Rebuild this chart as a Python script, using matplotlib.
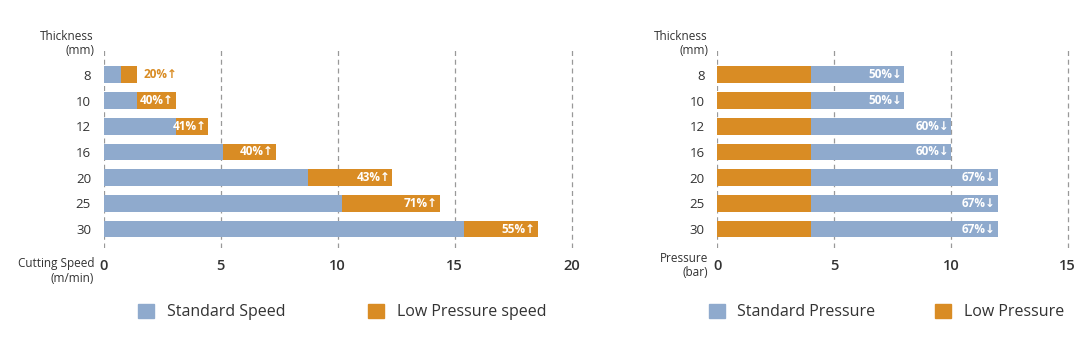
import matplotlib.pyplot as plt
from matplotlib.patches import Patch

plt.rcParams['font.family'] = ['Open Sans', 'DejaVu Sans']

thickness = ["8", "10", "12", "16", "20", "25", "30"]

# cutting speed (m/min)
standard_speed = [0.75, 1.42, 3.08, 5.12, 8.75, 10.19, 15.42]
low_pressure_speed = [1.42, 3.08, 4.48, 7.37, 12.33, 14.38, 18.55]
speed_labels = ["20%↑", "40%↑", "41%↑", "40%↑", "43%↑", "71%↑", "55%↑"]

# pressure (bar)
standard_pressure = [8, 8, 10, 10, 12, 12, 12]
low_pressure = [4, 4, 4, 4, 4, 4, 4]
pressure_labels = ["50%↓", "50%↓", "60%↓", "60%↓", "67%↓", "67%↓", "67%↓"]

blue = "#8FAACD"
orange = "#D98C24"
text_col = "#333333"

fig = plt.figure(figsize=(10.87, 3.52), dpi=100)
W, H = 1087, 352
ax1 = fig.add_axes([103.5 / W, 1 - 248 / H, (573.5 - 103.5) / W, 200 / H])
ax2 = fig.add_axes([717.3 / W, 1 - 248 / H, (1069.7 - 717.3) / W, 200 / H])

ys = list(range(len(thickness)))
bh = 0.66

# left: speed
ax1.barh(ys, standard_speed, height=bh, color=blue, zorder=2)
diff = [lp - s for lp, s in zip(low_pressure_speed, standard_speed)]
ax1.barh(ys, diff, left=standard_speed, height=bh, color=orange, zorder=2)
for y, s, lp, lab in zip(ys, standard_speed, low_pressure_speed, speed_labels):
    if lp - s < 1.0:
        ax1.text(lp + 0.27, y, lab, ha='left', va='center', color=orange,
                 fontsize=8.5, fontweight='bold', zorder=3)
    else:
        ax1.text(lp - 0.08, y, lab, ha='right', va='center', color='white',
                 fontsize=8.5, fontweight='bold', zorder=3)
ax1.set_xlim(0, 20 * 470 / 468)
ax1.set_xticks([0, 5, 10, 15, 20])

# right: pressure
ax2.barh(ys, low_pressure, height=bh, color=orange, zorder=2)
pdiff = [s - lp for s, lp in zip(standard_pressure, low_pressure)]
ax2.barh(ys, pdiff, left=low_pressure, height=bh, color=blue, zorder=2)
for y, s, lab in zip(ys, standard_pressure, pressure_labels):
    ax2.text(s - 0.08, y, lab, ha='right', va='center', color='white',
             fontsize=8.5, fontweight='bold', zorder=3)
ax2.set_xlim(0, 15 * 352.4 / 350.4)
ax2.set_xticks([0, 5, 10, 15])

for ax in (ax1, ax2):
    ax.set_ylim(6.74, -1.05)
    ax.set_yticks(ys)
    ax.set_yticklabels(thickness)
    for sp in ax.spines.values():
        sp.set_visible(False)
    ax.tick_params(axis='both', length=0, colors=text_col)
    ax.tick_params(axis='y', labelsize=9.5, pad=9)
    ax.tick_params(axis='x', labelsize=10.5, pad=8)
    for lbl in ax.get_xticklabels():
        lbl.set_fontweight('semibold')
    ax.grid(axis='x', linestyle=(0, (4, 3)), color='#999999', linewidth=0.9, zorder=0)
    ax.set_axisbelow(True)

fig.text(94 / W, 1 - 36 / H, "Thickness", ha='right', va='center', fontsize=8.5, color=text_col)
fig.text(94 / W, 1 - 50 / H, "(mm)", ha='right', va='center', fontsize=8.5, color=text_col)
fig.text(94 / W, 1 - 264 / H, "Cutting Speed", ha='right', va='center', fontsize=8.5, color=text_col)
fig.text(94 / W, 1 - 278 / H, "(m/min)", ha='right', va='center', fontsize=8.5, color=text_col)

fig.text(708 / W, 1 - 36 / H, "Thickness", ha='right', va='center', fontsize=8.5, color=text_col)
fig.text(708 / W, 1 - 50 / H, "(mm)", ha='right', va='center', fontsize=8.5, color=text_col)
fig.text(708 / W, 1 - 259 / H, "Pressure", ha='right', va='center', fontsize=8.5, color=text_col)
fig.text(708 / W, 1 - 273 / H, "(bar)", ha='right', va='center', fontsize=8.5, color=text_col)

leg_kw = dict(ncol=2, frameon=False, fontsize=11.5, handlelength=1.0, handleheight=1.0,
              handletextpad=0.8, labelcolor=text_col)
ax1.legend(handles=[Patch(color=blue, label="Standard Speed"),
                    Patch(color=orange, label="Low Pressure speed")],
           loc='center', bbox_to_anchor=(0.508, -0.32), columnspacing=5.2, **leg_kw)
ax2.legend(handles=[Patch(color=blue, label="Standard Pressure"),
                    Patch(color=orange, label="Low Pressure")],
           loc='center', bbox_to_anchor=(0.48, -0.32), columnspacing=3.75, **leg_kw)

fig.savefig("out.png", dpi=100)
